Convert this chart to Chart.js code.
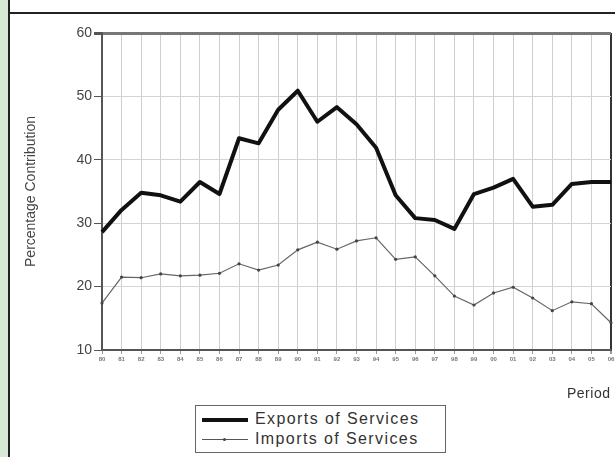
<!DOCTYPE html>
<html>
<head>
<meta charset="utf-8">
<script src="https://cdn.jsdelivr.net/npm/chart.js@4/dist/chart.umd.min.js"></script>
<style>
  html, body { margin: 0; padding: 0; background: #fff; }
  #wrap { position: relative; width: 615px; height: 457px; overflow: hidden; background: #fff; font-family: "Liberation Sans", Arial, sans-serif; }
  #strip { position: absolute; left: 0; top: 0; width: 8px; height: 457px; background: #d7ead6; }
  #vline { position: absolute; left: 8px; top: 0; width: 2px; height: 457px; background: #222; }
  #hline { position: absolute; left: 9px; top: 12px; width: 606px; height: 2px; background: #222; }
  #c { position: absolute; left: 0; top: 0; }
  #period { position: absolute; left: 567px; top: 385px; font-size: 14px; letter-spacing: 0.5px; color: #333; }
  #legend { position: absolute; left: 195px; top: 405px; width: 249px; height: 46px; border: 1px solid #666; background: #fff; }
  .row { position: absolute; left: 0; height: 20px; width: 249px; font-size: 16px; letter-spacing: 1.4px; color: #333; }
  .row span.t { position: absolute; left: 59px; top: 0; line-height: 20px; }
  .row span.l { position: absolute; left: 6px; }
</style>
</head>
<body>
<div id="wrap">
  <div id="strip"></div>
  <div id="vline"></div>
  <div id="hline"></div>
  <canvas id="c" width="615" height="457"></canvas>
  <div id="period">Period</div>
  <div id="legend">
    <div class="row" style="top:3px"><span class="l" style="top:9px;width:46px;height:4px;background:#111"></span><span class="t">Exports of Services</span></div>
    <div class="row" style="top:23px"><span class="l" style="top:10px;width:46px;height:1px;background:#555"></span><span class="l" style="left:27px;top:9px;width:3px;height:3px;background:#444;border-radius:2px"></span><span class="t">Imports of Services</span></div>
  </div>
</div>
<script>
const periods = ["80","81","82","83","84","85","86","87","88","89","90","91","92","93","94","95","96","97","98","99","00","01","02","03","04","05","06"];
const exportsOfServices = [28.6,32.1,34.8,34.4,33.4,36.5,34.6,43.4,42.6,47.9,50.9,46.0,48.3,45.6,41.9,34.4,30.8,30.5,29.1,34.6,35.6,37.0,32.6,32.9,36.2,36.5,36.5];
const importsOfServices = [17.4,21.5,21.4,22.0,21.7,21.8,22.1,23.6,22.6,23.4,25.8,27.0,25.9,27.2,27.7,24.3,24.7,21.7,18.5,17.1,19.0,19.9,18.2,16.2,17.6,17.3,14.3];
const yTicks = [10,20,30,40,50,60];

const FONT = "'Liberation Sans', Arial, sans-serif";

new Chart(document.getElementById('c'), {
  type: 'line',
  data: {
    labels: periods,
    datasets: [
      { label: 'Exports of Services', data: exportsOfServices, borderColor: '#111', borderWidth: 4, pointRadius: 0, tension: 0, borderJoinStyle: 'round' },
      { label: 'Imports of Services', data: importsOfServices, borderColor: '#666', borderWidth: 1.2, pointRadius: 1.6, pointBackgroundColor: '#444', pointBorderWidth: 0, tension: 0 }
    ]
  },
  options: {
    responsive: false,
    animation: false,
    devicePixelRatio: 1,
    layout: { padding: { left: 0, top: 33, right: 2, bottom: 87 } },
    plugins: { legend: { display: false }, tooltip: { enabled: false } },
    scales: {
      x: {
        offset: false,
        afterFit: s => { s.height = 20; s.paddingLeft = 0; s.paddingRight = 0; },
        grid: {
          color: ctx => ctx.index === periods.length - 1 ? '#333' : '#cfcfcf',
          lineWidth: ctx => ctx.index === periods.length - 1 ? 2 : 1,
          tickLength: 4, tickColor: '#999'
        },
        border: { color: '#555', width: 2 },
        ticks: { autoSkip: false, maxRotation: 0, padding: 2, color: '#777', font: { family: FONT, size: 6, weight: 'bold' } }
      },
      y: {
        min: 10, max: 60,
        afterFit: s => { s.width = 102; s.paddingTop = 0; s.paddingBottom = 0; },
        afterBuildTicks: s => { s.ticks = yTicks.map(v => ({ value: v })); },
        grid: {
          color: ctx => ctx.tick && ctx.tick.value === 60 ? '#777' : '#d4d4d4',
          lineWidth: ctx => ctx.tick && ctx.tick.value === 60 ? 3 : 1,
          tickLength: 8, tickColor: '#555'
        },
        border: { color: '#555', width: 2 },
        ticks: { padding: 2, color: '#444', font: { family: FONT, size: 14 } },
        title: { display: true, text: 'Percentage Contribution', color: '#444', font: { family: FONT, size: 14 }, padding: { top: 23, bottom: 0 } }
      }
    }
  }
});
</script>
</body>
</html>
